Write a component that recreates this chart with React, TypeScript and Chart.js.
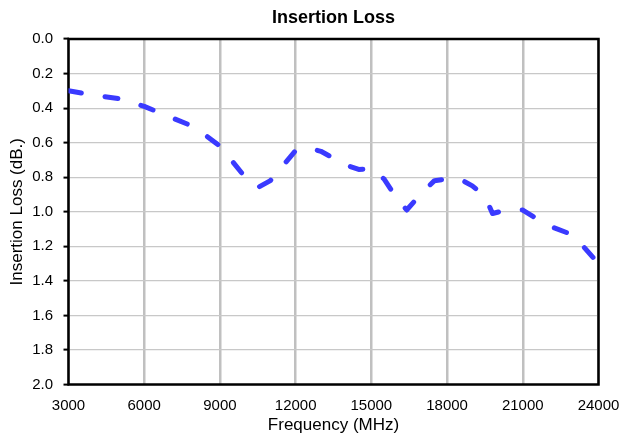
import React, { useEffect, useRef } from "react";
import { Chart, registerables } from "chart.js";

Chart.register(...registerables);

const frequencies = [3000, 4000, 5000, 6000, 7000, 8000, 9000, 10000, 10500, 11000, 12000, 12500, 13000, 14000, 14500, 15000, 15500, 16000, 16400, 17000, 17500, 18000, 18500, 19000, 19500, 19800, 20500, 21000, 22000, 23000, 24000];
const insertionLoss = [0.30, 0.325, 0.345, 0.39, 0.45, 0.51, 0.62, 0.80, 0.86, 0.82, 0.645, 0.63, 0.65, 0.73, 0.755, 0.75, 0.81, 0.92, 0.99, 0.89, 0.82, 0.81, 0.81, 0.85, 0.91, 1.01, 0.985, 0.99, 1.08, 1.135, 1.30];
const xTickValues = [3000, 6000, 9000, 12000, 15000, 18000, 21000, 24000];
const yTickValues = [0, 0.2, 0.4, 0.6, 0.8, 1.0, 1.2, 1.4, 1.6, 1.8, 2.0];

const FONT = "'Liberation Sans', Arial, sans-serif";

const boxPlugin = {
  id: "boxBorder",
  beforeDatasetsDraw(chart: any) {
    const { ctx, chartArea } = chart;
    const { left, top, right, bottom } = chartArea;
    ctx.save();
    ctx.strokeStyle = "#000";
    ctx.lineWidth = 2.5;
    ctx.strokeRect(left, top, right - left, bottom - top);
    ctx.restore();
  },
};

export default function App() {
  const ref = useRef<HTMLCanvasElement | null>(null);
  useEffect(() => {
    document.body.style.margin = "0";
    const canvas = ref.current;
    if (!canvas) return;
    const chart = new Chart(canvas, {
      type: "line",
      data: {
        datasets: [
          {
            label: "Insertion Loss",
            data: frequencies.map((f, i) => ({ x: f, y: insertionLoss[i] })),
            borderColor: "rgb(58,58,255)",
            borderWidth: 5,
            borderDash: [13, 24],
            borderCapStyle: "round",
            borderJoinStyle: "round",
            pointRadius: 0,
            tension: 0,
            fill: false,
          },
        ],
      },
      options: {
        responsive: false,
        animation: false,
        devicePixelRatio: 1,
        layout: { padding: { left: 0, right: 24.5, top: 0, bottom: 0 } },
        plugins: {
          legend: { display: false },
          tooltip: { enabled: false },
          title: {
            display: true,
            text: "Insertion Loss",
            color: "#000",
            fullSize: false,
            font: { family: FONT, size: 18, weight: "bold" },
            padding: { top: 7.7, bottom: 9.7 },
          },
        },
        scales: {
          x: {
            type: "linear",
            min: 3000,
            max: 24000,
            afterBuildTicks: (scale: any) => {
              scale.ticks = xTickValues.map((v) => ({ value: v }));
            },
            afterFit: (scale: any) => {
              scale.height = 56.5;
              scale.paddingLeft = 0;
              scale.paddingRight = 0;
            },
            ticks: {
              color: "#000",
              font: { family: FONT, size: 15 },
              padding: 12.5,
              maxRotation: 0,
              autoSkip: false,
              callback: (v: any) => String(v),
            },
            grid: {
              color: "#c0c0c0",
              lineWidth: 2.5,
              drawTicks: false,
            },
            border: { display: false },
            title: {
              display: true,
              text: "Frequency (MHz)",
              color: "#000",
              font: { family: FONT, size: 17 },
              padding: { top: 0, bottom: 5.3 },
            },
          },
          y: {
            type: "linear",
            reverse: true,
            min: 0,
            max: 2,
            afterBuildTicks: (scale: any) => {
              scale.ticks = yTickValues.map((v) => ({ value: v }));
            },
            afterFit: (scale: any) => {
              scale.width = 68.5;
              scale.paddingTop = 0;
              scale.paddingBottom = 0;
            },
            ticks: {
              color: "#000",
              font: { family: FONT, size: 15 },
              padding: 10.5,
              autoSkip: false,
              callback: (v: any) => Number(v).toFixed(1),
            },
            grid: {
              color: "#c8c8c8",
              lineWidth: 1.2,
              drawTicks: true,
              tickLength: 5,
              tickColor: "#000",
              tickWidth: 2,
            },
            border: { display: false },
            title: {
              display: true,
              text: "Insertion Loss (dB.)",
              color: "#000",
              font: { family: FONT, size: 17 },
              padding: { top: 7.3, bottom: 0 },
            },
          },
        },
      },
      plugins: [boxPlugin],
    } as any);
    return () => chart.destroy();
  }, []);
  return (
    <div style={{ position: "absolute", left: 0, top: 0, width: 623, height: 441 }}>
      <canvas ref={ref} width={623} height={441} style={{ width: 623, height: 441 }} />
    </div>
  );
}
